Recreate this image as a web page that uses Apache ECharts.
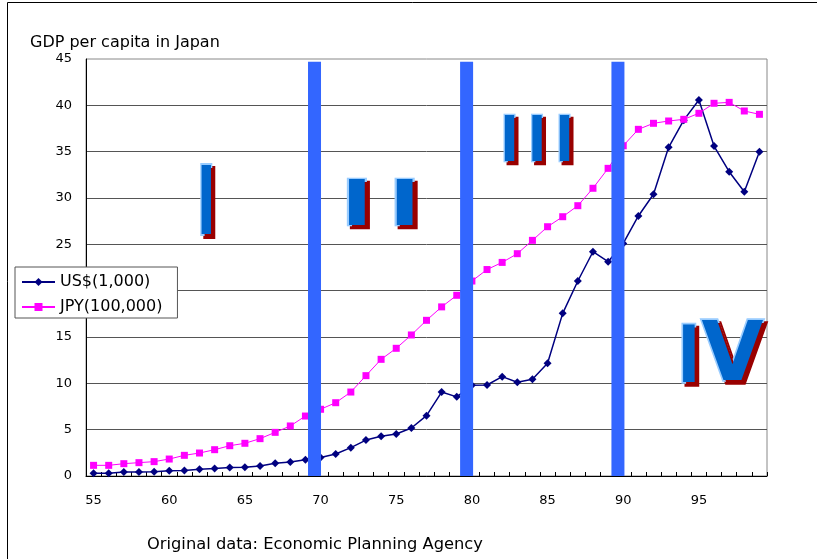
<!DOCTYPE html>
<html>
<head>
<meta charset="utf-8">
<script src="https://cdn.jsdelivr.net/npm/echarts@6/dist/echarts.min.js"></script>
<style>
  html, body { margin: 0; padding: 0; background: #fff; }
  #chart { width: 817px; height: 559px; }
</style>
</head>
<body>
<div id="chart"></div>
<script>
// ---- data ----
const years = ['55','56','57','58','59','60','61','62','63','64','65','66','67','68','69',
               '70','71','72','73','74','75','76','77','78','79',
               '80','81','82','83','84','85','86','87','88','89',
               '90','91','92','93','94','95','96','97','98','99'];
// GDP per capita, US$ (1,000)
const usd = [0.29, 0.30, 0.43, 0.43, 0.45, 0.57, 0.60, 0.72, 0.80, 0.93, 0.95, 1.08, 1.37, 1.51, 1.76,
             2.00, 2.37, 3.06, 3.88, 4.28, 4.53, 5.18, 6.51, 9.06, 8.54,
             9.80, 9.82, 10.72, 10.11, 10.43, 12.16, 17.55, 21.04, 24.20, 23.13,
             25.10, 28.06, 30.40, 35.47, 38.40, 40.57, 35.60, 32.84, 30.68, 35.00];
// GDP per capita, JPY (100,000)
const jpy = [1.15, 1.15, 1.33, 1.44, 1.55, 1.83, 2.23, 2.48, 2.84, 3.27, 3.53, 4.03, 4.71, 5.40, 6.47,
             7.20, 7.91, 9.06, 10.83, 12.59, 13.78, 15.22, 16.80, 18.25, 19.50,
             21.04, 22.28, 23.05, 23.99, 25.43, 26.90, 27.98, 29.17, 31.05, 33.20,
             35.64, 37.41, 38.06, 38.31, 38.49, 39.14, 40.22, 40.32, 39.39, 39.03];
const seriesNames = ['US$(1,000)', 'JPY(100,000)'];
const yTicks = { min: 0, max: 45, interval: 5 };
// period dividers (position in years, 19xx) and their top value
const periodDividers = [1969.6, 1979.65, 1989.65];
const dividerTop = 44.7;
const yearRange = [1954.5, 1999.5];
const titleText = 'GDP per capita in Japan';
const sourceText = 'Original data: Economic Planning Agency';

// ---- chart ----
const chart = echarts.init(document.getElementById('chart'), null, { renderer: 'canvas' });

const numeralBase = {
  fill: '#0066CC',
  stroke: '#99CCFF',
  lineWidth: 4,
  textShadowColor: '#990000',
  textShadowBlur: 0.5,
  textShadowOffsetX: 3,
  textShadowOffsetY: 3
};
const libBold = 'bold 100px "Liberation Sans"';
const djvBold = 'bold 100px "DejaVu Sans"';

function tok(font, width) {
  return Object.assign({ font: font, width: width, align: 'center' }, numeralBase);
}

function numeral(x, y, sx, sy, text, rich, align) {
  return {
    type: 'text', x: x, y: y, scaleX: sx, scaleY: sy, z: 10, silent: true,
    style: Object.assign({
      text: text, rich: rich, font: libBold,
      align: align, textAlign: align,
      verticalAlign: 'middle', textVerticalAlign: 'middle'
    }, numeralBase)
  };
}

const dividerSeries = periodDividers.map(function (d, i) {
  return {
    name: 'divider' + i,
    type: 'line',
    xAxisIndex: 1,
    yAxisIndex: 0,
    data: [[d, 0], [d, dividerTop]],
    symbol: 'none',
    silent: true,
    z: 5,
    lineStyle: { color: '#3366FF', width: 13, cap: 'butt' }
  };
});

const option = {
  animation: false,
  backgroundColor: '#ffffff',
  title: {
    text: titleText,
    left: 30, top: 35, padding: 0,
    textStyle: { fontFamily: 'DejaVu Sans', fontSize: 16, fontWeight: 'normal', color: '#000' }
  },
  legend: {
    data: seriesNames,
    orient: 'vertical',
    left: 15, top: 267,
    padding: [7, 15, 3, 6],
    itemWidth: 33, itemHeight: 10, itemGap: 9,
    backgroundColor: '#ffffff',
    borderColor: '#555555', borderWidth: 1,
    textStyle: { fontFamily: 'DejaVu Sans', fontSize: 16, color: '#000' },
    selectedMode: false
  },
  grid: {
    left: 86, top: 59, right: 50, bottom: 83,
    show: true, borderColor: '#888888', borderWidth: 1, backgroundColor: 'transparent'
  },
  xAxis: [
    {
      type: 'category',
      data: years,
      boundaryGap: true,
      axisLine: { show: true, lineStyle: { color: '#000', width: 1 } },
      axisTick: { show: true, interval: 0, inside: true, length: 4, lineStyle: { color: '#000' } },
      axisLabel: { interval: 4, margin: 18, fontFamily: 'DejaVu Sans', fontSize: 13, color: '#000' },
      splitLine: { show: false }
    },
    {
      type: 'value',
      min: yearRange[0], max: yearRange[1],
      show: false
    }
  ],
  yAxis: {
    type: 'value',
    min: yTicks.min, max: yTicks.max, interval: yTicks.interval,
    axisLine: { show: true, lineStyle: { color: '#000', width: 1 } },
    axisTick: { show: false },
    axisLabel: { margin: 14, fontFamily: 'DejaVu Sans', fontSize: 13, color: '#000' },
    splitLine: { show: true, showMaxLine: false, lineStyle: { color: '#555555', width: 1 } }
  },
  series: [
    {
      name: seriesNames[0],
      type: 'line',
      data: usd,
      symbol: 'diamond',
      symbolSize: 8,
      showAllSymbol: true,
      itemStyle: { color: '#000080' },
      lineStyle: { color: '#000080', width: 1.5 },
      z: 2
    },
    {
      name: seriesNames[1],
      type: 'line',
      data: jpy,
      symbol: 'rect',
      symbolSize: 7,
      showAllSymbol: true,
      itemStyle: { color: '#FF00FF' },
      lineStyle: { color: '#FF00FF', width: 1 },
      z: 3
    }
  ].concat(dividerSeries),
  graphic: [
    {
      type: 'polyline', silent: true, z: 0,
      shape: { points: [[7.5, 600], [7.5, 2.5], [830, 2.5]] },
      style: { stroke: '#000', lineWidth: 1, fill: null }
    },
    {
      type: 'text', x: 147, y: 545, silent: true,
      style: {
        text: sourceText, font: '16.3px "DejaVu Sans"', fill: '#000',
        align: 'left', textAlign: 'left', verticalAlign: 'middle', textVerticalAlign: 'middle'
      }
    },
    numeral(206.2, 206, 0.65, 1.0, '{a|I}', { a: tok(libBold, 30) }, 'center'),
    numeral(380.85, 207, 1.09, 0.663, '{a|I}{a|I}', { a: tok(libBold, 43.8) }, 'center'),
    numeral(537.1, 143, 0.65, 0.667, '{a|I}{a|I}{a|I}', { a: tok(libBold, 42.3) }, 'center'),
    numeral(677.2, 359, 0.8, 0.825, '{i|I}{v|V}',
      { i: tok(libBold, 29.2), v: tok(djvBold, 80) }, 'left')
  ]
};

chart.setOption(option);
</script>
</body>
</html>
